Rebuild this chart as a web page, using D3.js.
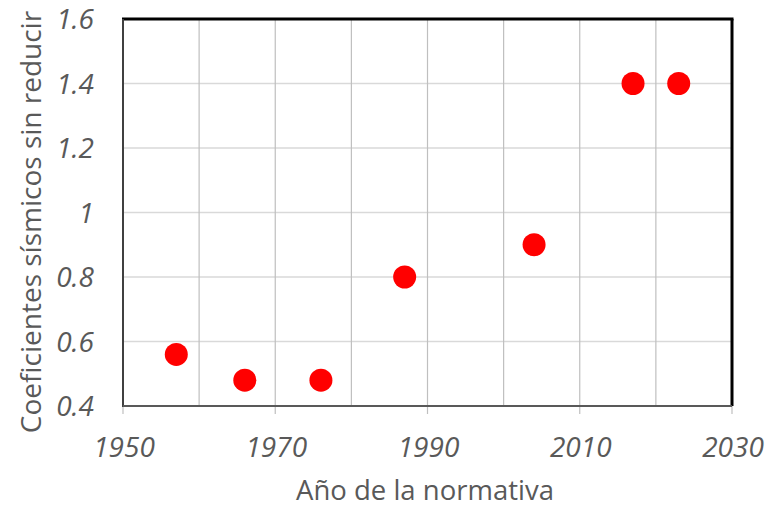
<!DOCTYPE html>
<html>
<head>
<meta charset="utf-8">
<script src="https://cdn.jsdelivr.net/npm/d3@7"></script>
<style>
  html, body { margin: 0; padding: 0; background: #fff; }
  svg { display: block; }
  text { font-family: "Open Sans", "Noto Sans", sans-serif; fill: #595959; }
</style>
</head>
<body>
<svg id="chart" width="766" height="508"></svg>
<script>
// Seismic coefficients (unreduced) by code year
const years = [1957, 1966, 1976, 1987, 2004, 2017, 2023];
const coefficients = [0.56, 0.48, 0.48, 0.80, 0.90, 1.40, 1.40];

const xTickLabels = [1950, 1970, 1990, 2010, 2030];
const xGridValues = [1960, 1970, 1980, 1990, 2000, 2010, 2020];
const yTickLabels = [0.4, 0.6, 0.8, 1.0, 1.2, 1.4, 1.6];

const xTitle = "Año de la normativa";
const yTitle = "Coeficientes sísmicos sin reducir";

const svg = d3.select("#chart");
const plotLeft = 123, plotRight = 732, plotTop = 19, plotBottom = 406;

const x = d3.scaleLinear().domain([1950, 2030]).range([plotLeft, plotRight]);
const y = d3.scaleLinear().domain([0.4, 1.6]).range([plotBottom, plotTop]);

// Grid
svg.append("g").selectAll("line").data(yTickLabels.slice(1, -1)).join("line")
  .attr("x1", plotLeft).attr("x2", plotRight)
  .attr("y1", d => y(d)).attr("y2", d => y(d))
  .attr("stroke", "#d9d9d9").attr("stroke-width", 1.5);

svg.append("g").selectAll("line").data(xGridValues).join("line")
  .attr("x1", d => x(d)).attr("x2", d => x(d))
  .attr("y1", plotTop).attr("y2", plotBottom)
  .attr("stroke", "#bfbfbf").attr("stroke-width", 1.2);

// X tick marks below the axis
svg.append("g").selectAll("line").data(xTickLabels).join("line")
  .attr("x1", d => x(d)).attr("x2", d => x(d))
  .attr("y1", plotBottom).attr("y2", plotBottom + 8)
  .attr("stroke", "#bfbfbf").attr("stroke-width", 1.2);

// Frame: top and right black, left and bottom dark grey axes
svg.append("line").attr("x1", plotLeft - 1).attr("x2", plotRight + 1.5).attr("y1", plotTop).attr("y2", plotTop)
  .attr("stroke", "#000").attr("stroke-width", 3);
svg.append("line").attr("x1", plotRight).attr("x2", plotRight).attr("y1", plotTop).attr("y2", plotBottom)
  .attr("stroke", "#000").attr("stroke-width", 3);
svg.append("line").attr("x1", plotLeft).attr("x2", plotLeft).attr("y1", plotTop).attr("y2", plotBottom + 1)
  .attr("stroke", "#404040").attr("stroke-width", 2);
svg.append("line").attr("x1", plotLeft).attr("x2", plotRight).attr("y1", plotBottom).attr("y2", plotBottom)
  .attr("stroke", "#595959").attr("stroke-width", 2);

// Tick labels
svg.append("g").selectAll("text").data(yTickLabels).join("text")
  .attr("x", 94).attr("y", d => y(d) + 10)
  .attr("text-anchor", "end")
  .attr("font-size", 28).attr("font-style", "italic")
  .text(d => d === 1 ? "1" : d3.format(".1f")(d));

svg.append("g").selectAll("text").data(xTickLabels).join("text")
  .attr("x", d => x(d) + 1).attr("y", 457)
  .attr("text-anchor", "middle")
  .attr("font-size", 28).attr("font-style", "italic")
  .text(d => d);

// Axis titles
svg.append("text").attr("x", 425).attr("y", 500)
  .attr("text-anchor", "middle").attr("font-size", 27.5).text(xTitle);
svg.append("text")
  .attr("transform", "translate(41, 222) rotate(-90)")
  .attr("text-anchor", "middle").attr("font-size", 28).text(yTitle);

// Points
svg.append("g").selectAll("circle").data(years.map((yr, i) => [yr, coefficients[i]])).join("circle")
  .attr("cx", d => x(d[0])).attr("cy", d => y(d[1]))
  .attr("r", 11.5).attr("fill", "#ff0000");
</script>
</body>
</html>
